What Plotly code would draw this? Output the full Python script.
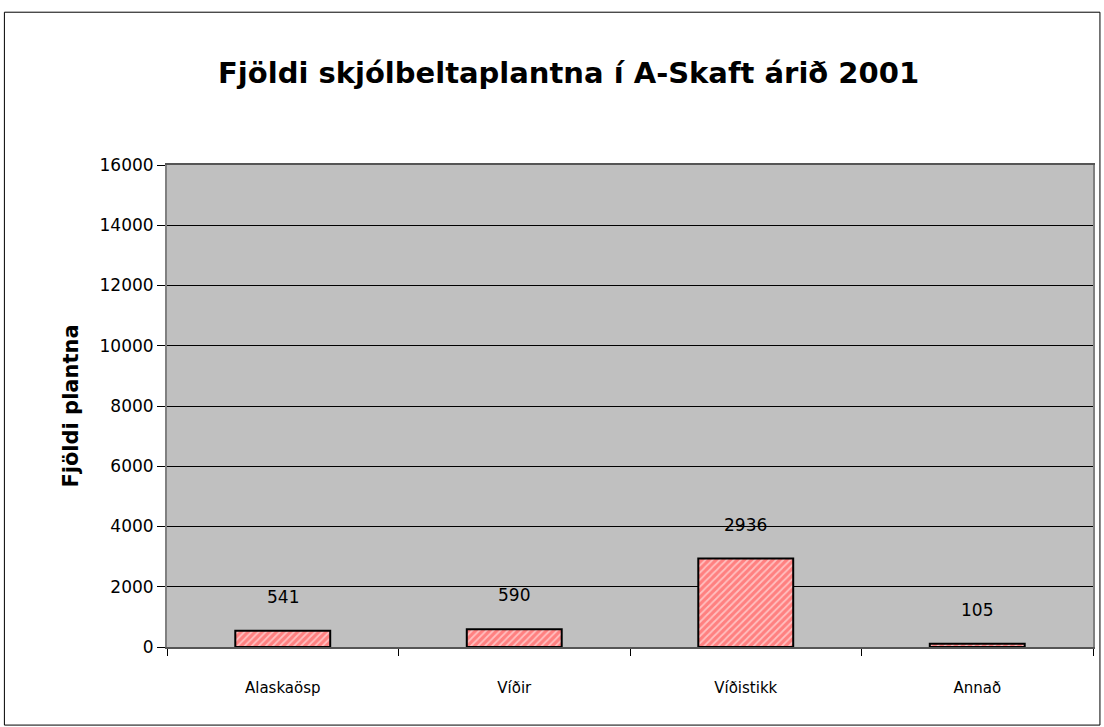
import plotly.graph_objects as go

categories = ["Alaskaösp", "Víðir", "Víðistikk", "Annað"]
values = [541, 590, 2936, 105]
y_ticks = [0, 2000, 4000, 6000, 8000, 10000, 12000, 14000, 16000]

fig = go.Figure()
fig.add_trace(go.Bar(
    x=categories, y=values, width=0.41,
    marker=dict(color="#FF8080", line=dict(color="black", width=2),
                pattern=dict(shape="/", fgcolor="white", bgcolor="#FF8080",
                             size=5, solidity=0.35)),
    hoverinfo="x+y",
))

for c, v in zip(categories, values):
    fig.add_annotation(x=c, y=v, text=str(v), showarrow=False,
                       yanchor="bottom", yshift=22,
                       font=dict(family="DejaVu Sans", size=17, color="black"))

# outer frame of the chart
fig.add_shape(type="rect", xref="paper", yref="paper",
              x0=-0.1756, x1=1.0075, y0=-0.162, y1=1.317,
              line=dict(color="black", width=1))

fig.update_layout(
    width=1104, height=727,
    margin=dict(l=167, r=9, t=165, b=80),
    paper_bgcolor="white", plot_bgcolor="#C0C0C0",
    title=dict(text="<b>Fjöldi skjólbeltaplantna í A-Skaft árið 2001</b>",
               x=0.515, xanchor="center", y=0.9, yanchor="middle",
               font=dict(family="DejaVu Sans", size=29, color="black")),
    showlegend=False, bargap=0.59,
    font=dict(family="DejaVu Sans", color="black"),
)
fig.update_xaxes(tickson="boundaries", ticks="outside", ticklen=7,
                 tickcolor="black", showline=True, linecolor="#555555",
                 linewidth=2, mirror=True, showgrid=False,
                 tickfont=dict(size=15), ticklabelstandoff=26)
fig.update_yaxes(range=[0, 16000], tickvals=y_ticks,
                 ticktext=[str(t) for t in y_ticks], ticks="outside",
                 ticklen=8, tickcolor="black", showline=True,
                 linecolor="#808080", linewidth=2, mirror=True,
                 gridcolor="black", gridwidth=1, zeroline=False,
                 tickfont=dict(size=17),
                 title=dict(text="<b>Fjöldi plantna</b>",
                            font=dict(size=21), standoff=15))

fig.write_html("out.html", config={"displayModeBar": False},
               post_script="document.body.style.margin='0';")
